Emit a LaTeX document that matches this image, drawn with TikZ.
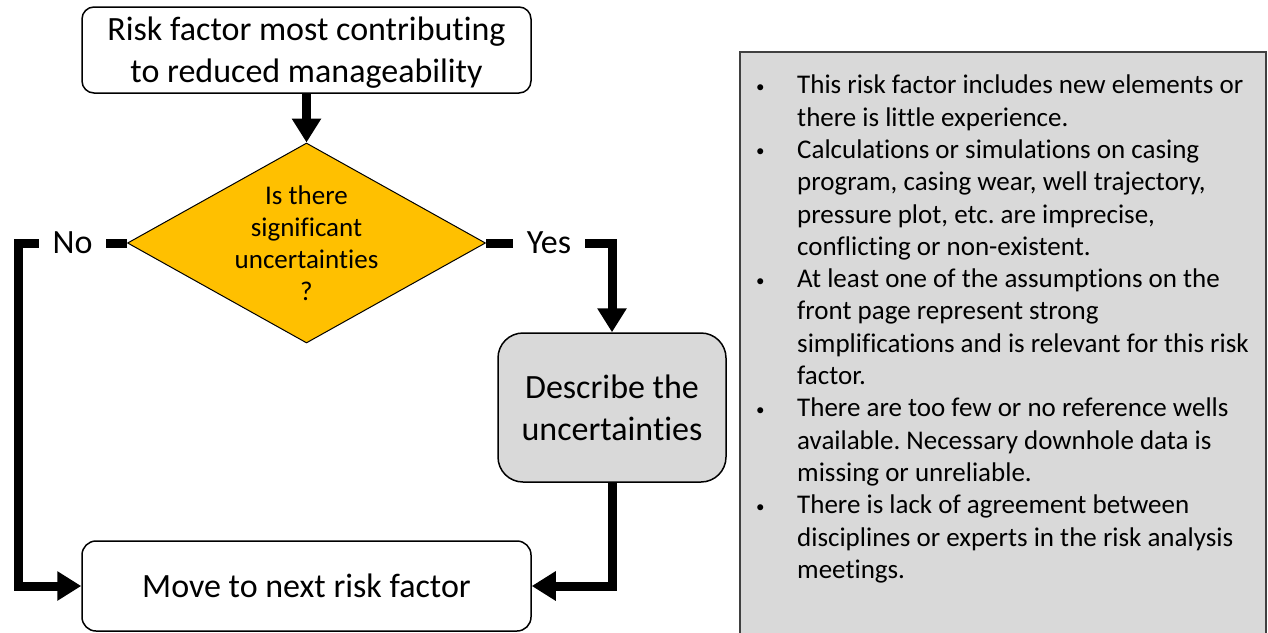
\documentclass[tikz,border=0pt]{standalone}
\usepackage{fontspec}
\setmainfont{Carlito}[Ligatures=NoCommon]
\usetikzlibrary{arrows.meta,shapes.geometric,positioning}
\definecolor{decision}{HTML}{FFC000}
\definecolor{panelgray}{HTML}{D9D9D9}
\newcommand{\smallbullet}{\raisebox{1.5pt}{\fontsize{17}{17}\selectfont\textbullet}}
\frenchspacing

\begin{document}
\begin{tikzpicture}[x=1pt,y=-1pt,
		box/.style={draw,line width=1.5pt,rounded corners=12pt,fill=white,
			align=center,inner sep=0pt,font=\fontsize{34}{42}\selectfont},
		flow/.style={line width=9pt,line join=miter,
			-{Triangle[length=24pt,width=28pt]}},
		lbl/.style={fill=white,inner xsep=14pt,inner ysep=2pt,
			font=\fontsize{34}{42}\selectfont}]
		\useasboundingbox (0,0) rectangle (1268,632);
		
		% flow chart
		\node[box,minimum width=449,minimum height=86] (start) at (306.5,50)
		{\raisebox{-3pt}[\height][\depth]{\begin{tabular}{@{}c@{}}Risk factor most contributing\\to reduced manageability\end{tabular}}};
		\node[diamond,draw,line width=1pt,fill=decision,inner sep=0pt,
		minimum width=358,minimum height=200] (q) at (306.5,243) {};
		\node[align=center,font=\fontsize{27}{32}\selectfont] at (q)
		{Is there\\significant\\uncertainties\\?};
		\node[box,fill=panelgray,rounded corners=25pt,minimum width=228,
		minimum height=149] (desc) at (612,407.5)
		{Describe the\\uncertainties};
		\node[box,rounded corners=14pt,minimum width=449,minimum height=90]
		(move) at (306.5,586) {Move to next risk factor};
		
		\coordinate (nocorner) at (18,243);
		\coordinate (yescorner) at (612,243);
		
		\draw[flow] (start) -- (q);
		\draw[flow] (q.west) -- node[lbl] {No} (nocorner) |- (move.west);
		\draw[flow] (q.east) -- node[lbl] {Yes} (yescorner) -- (desc.north);
		\draw[flow] (desc.south) |- (move.east);
		
		% notes on the right
		\draw[draw=black!75,line width=1.5pt,fill=panelgray]
		(740,52) rectangle (1266,645);
		\node[anchor=north west,inner sep=0pt,font=\fontsize{27}{32.3}\selectfont]
		(notes) at (756,71) {%
			\begin{tabular}{@{}p{41pt}@{}l@{}}
				\smallbullet & This risk factor includes new elements or\\
				& there is little experience.\\
				\smallbullet & Calculations or simulations on casing\\
				& program, casing wear, well trajectory,\\
				& pressure plot, etc. are imprecise,\\
				& conflicting or non-existent.\\
				\smallbullet & At least one of the assumptions on the\\
				& front page represent strong\\
				& simplifications and is relevant for this risk\\
				& factor.\\
				\smallbullet & There are too few or no reference wells\\
				& available. Necessary downhole data is\\
				& missing or unreliable.\\
				\smallbullet & There is lack of agreement between\\
				& disciplines or experts in the risk analysis\\
				& meetings.
			\end{tabular}};
	\end{tikzpicture}
\end{document}
